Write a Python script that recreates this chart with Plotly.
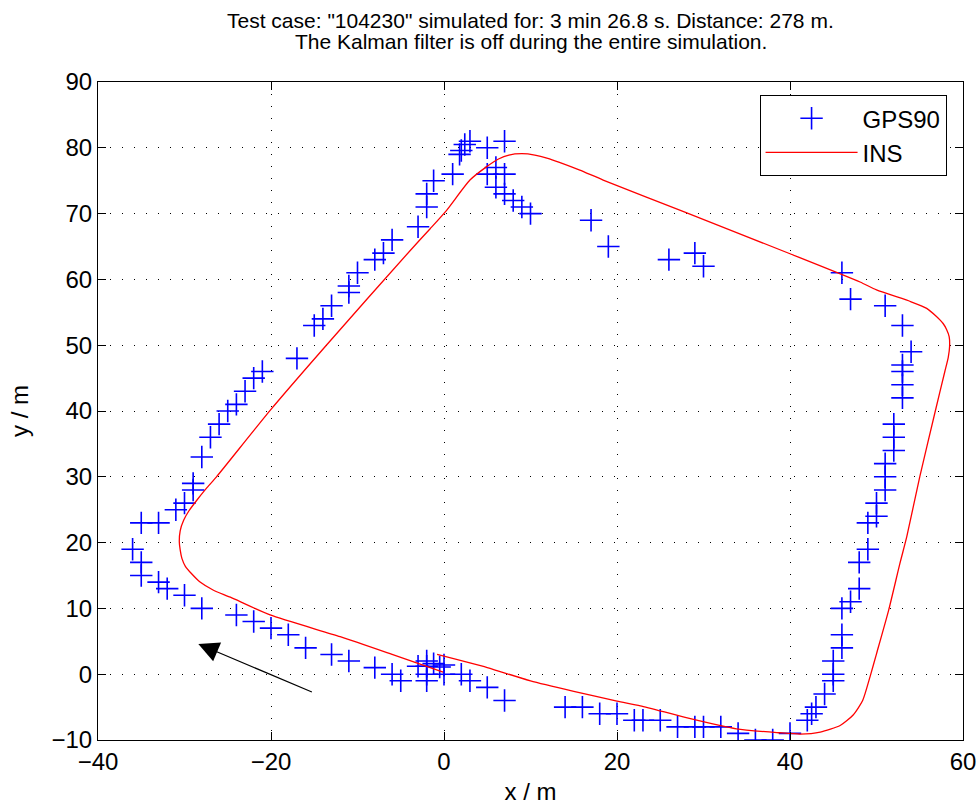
import plotly.graph_objects as go

gps_x = [0, -0.5, -1.2, -2, -2, -2, -2, -3, -5, -6, -8, -11, -13, -16, -18, -20, -22, -24, -28, -30, -32, -33,
         -35, -35, -36, -35, -33, -31, -30, -29, -29, -28, -27, -26, -25, -24, -23, -22, -21, -17, -15, -14,
         -13, -11, -11, -10, -8, -7, -6, -3, -2, -2, -1.2, 1, 1.8, 2, 2.4, 3, 5, 7, 5, 6, 7, 6, 7, 8, 9, 10,
         17, 19, 26, 29, 30, 46, 47, 51, 53, 54, 53, 53, 53, 53, 52, 52, 52, 51, 51, 51, 50, 50, 49, 49, 48,
         48, 47, 46, 46, 46, 45, 45, 45, 44, 43, 42.5, 42, 40, 38, 36, 34, 32, 30, 29, 27, 25, 23, 22, 20,
         18, 16, 14, 7, 5, 3, 2, 0]
gps_y = [1.4, 1.1, 1.6, 2, 1.2, 0, -1, 1.2, -1, 0, 1, 2, 3, 4, 6, 7, 8, 9, 10, 12, 13, 14,
         15, 17, 19, 23, 23, 25, 26, 28, 29, 33, 36, 38, 40, 41, 43, 45, 46, 48, 53, 54,
         56, 58, 59, 61, 63, 64, 66, 68, 71, 73, 75, 76, 79, 79.6, 80.5, 81, 80, 81, 76, 77, 76, 74, 73, 72, 71, 70,
         69, 65, 63, 64, 62, 61, 57, 56, 53, 49, 47, 46, 44, 42, 38, 36, 34, 32, 30, 28, 26, 24, 23, 19, 17,
         13, 11, 10, 6, 4, 2, 0, -1, -3, -5, -6, -7, -9, -10, -10, -9, -8, -8, -8, -8, -7, -7, -7, -6,
         -6, -5, -5, -4, -2, -1, 0, 0]

ins_x = [-0.8, 5, 10, 15, 20, 22.7, 28, 33.8, 38.8, 41.2, 43.5, 45.8, 47.3, 48.4, 49.25, 50.0, 51.4, 52.7,
         53.5, 55.0, 56.8, 57.9, 58.3, 58.45, 58.4, 58.1, 57.7, 56.9, 55.8, 54.0, 50.0,
         48.1, 40, 27.7, 18.4, 15.7, 13.5, 12.0, 10.5, 9.0, 7.5, 6.3, 4.9, 3.0, 0.3, -1.6, -3.9, -13.6, -20.1,
         -26.3, -27.5, -28.6, -29.5, -30.1, -30.5, -30.6, -30.5, -30.3, -29.9, -29.2, -28.2, -26.7, -24.7,
         -20.1, -12, -6, -0.1]
ins_y = [3.0, 1.0, -1.0, -2.6, -4.1, -4.8, -6.6, -8.3, -8.9, -9.1, -8.8, -7.8, -6.2, -4.0, -0.4, 3.1, 9.7, 16.8,
         20.9, 30.0, 40.0, 46.0, 48.2, 49.8, 51.3, 52.4, 53.3, 54.4, 55.6, 56.6, 58.4,
         59.6, 63.9, 70.3, 75.1, 76.6, 77.7, 78.4, 78.9, 79.1, 78.9, 78.3, 77.1, 75.1, 70.5, 67.7, 64.4, 50.0,
         40.1, 30.0, 28.2, 26.4, 24.8, 23.4, 21.8, 20.1, 18.9, 17.6, 16.4, 15.3, 14.0, 12.8, 11.7,
         9.0, 5.7, 3.0, 0.3]

arrow_tail = (-15.1, -2.8)
arrow_head = (-28.4, 4.6)

x_ticks = [-40, -20, 0, 20, 40, 60]
y_ticks = [-10, 0, 10, 20, 30, 40, 50, 60, 70, 80, 90]

title_lines = ['Test case: "104230" simulated for: 3 min 26.8 s. Distance: 278 m.',
               'The Kalman filter is off during the entire simulation.']

FONT = "Liberation Sans, Arial, Helvetica, sans-serif"

fig = go.Figure()
fig.add_trace(go.Scatter(
    x=gps_x, y=gps_y, mode="markers", name="GPS90",
    marker=dict(symbol="cross-thin", size=16, color="rgb(0,0,255)",
                line=dict(color="rgb(0,0,255)", width=1.6)),
))
fig.add_trace(go.Scatter(
    x=ins_x, y=ins_y, mode="lines", name="INS",
    line=dict(color="rgb(255,0,0)", width=1.3, shape="spline", smoothing=0.6),
))

fig.add_annotation(
    x=arrow_head[0], y=arrow_head[1], ax=arrow_tail[0], ay=arrow_tail[1],
    xref="x", yref="y", axref="x", ayref="y", text="",
    showarrow=True, arrowhead=2, arrowsize=3.4, arrowwidth=1.2, arrowcolor="black",
)

for i, line in enumerate(title_lines):
    fig.add_annotation(
        text=line, xref="paper", yref="paper", x=0.5, y=[1.094, 1.061][i],
        xanchor="center", yanchor="middle", showarrow=False,
        font=dict(size=21, family=FONT, color="black"),
    )

axis_common = dict(
    showline=True, linecolor="black", linewidth=1, mirror="ticks",
    ticks="inside", ticklen=8, tickcolor="black",
    showgrid=True, gridcolor="black", gridwidth=1, griddash="1px,11px",
    zeroline=False, automargin=False,
    tickfont=dict(size=24, color="black", family=FONT),
    title_font=dict(size=24, color="black", family=FONT),
)

fig.update_xaxes(range=[-40, 60], tickvals=x_ticks, title_text="x / m",
                 title_standoff=12, **axis_common)
fig.update_yaxes(range=[-10, 90], tickvals=y_ticks, title_text="y / m",
                 title_standoff=16, **axis_common)

fig.update_layout(
    width=979, height=805,
    margin=dict(l=98, r=16, t=82, b=65, autoexpand=False),
    plot_bgcolor="white", paper_bgcolor="white",
    font=dict(family=FONT, color="black", size=20),
    legend=dict(x=0.981, xanchor="right", y=0.98, yanchor="top",
                bordercolor="black", borderwidth=1, bgcolor="white",
                font=dict(size=24, family=FONT, color="black"),
                itemwidth=92, tracegroupgap=0),
    showlegend=True,
)

fig.write_html("out.html")
